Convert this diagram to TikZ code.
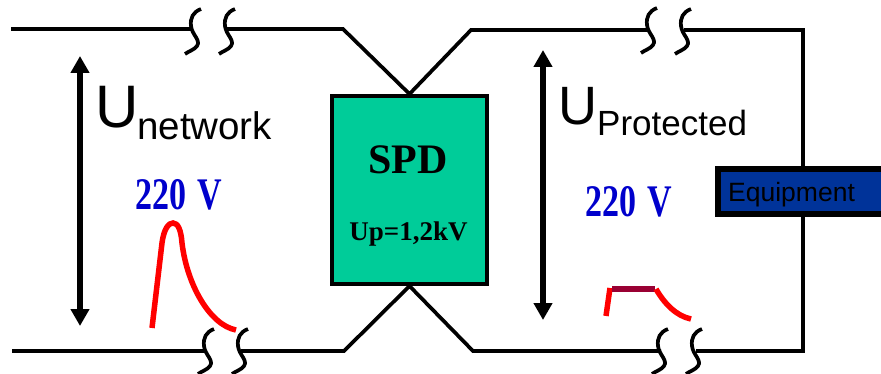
\documentclass[tikz,border=0pt]{standalone}
\usepackage{fontspec}
\setmainfont{Liberation Serif}
\setsansfont{Liberation Sans}
\usetikzlibrary{arrows.meta}
\definecolor{spdgreen}{HTML}{00CC99}
\definecolor{eqblue}{HTML}{003399}
\definecolor{voltblue}{HTML}{0000CC}
\definecolor{flatred}{HTML}{990033}
\tikzset{
  x=1pt,y=-1pt,
  wire/.style={line width=3.7pt,black,line join=miter},
  volt/.style={line width=5.5pt,black,{Triangle[width=18pt,length=17pt]}-{Triangle[width=18pt,length=17pt]}},
  lbl/.style={inner sep=0pt,anchor=base west,font=\sffamily},
  wave/.style={line width=5.5pt,red},
  breakmark/.pic={\draw[line width=3.7pt,black] (16,0) .. controls (8,3) and (5,9) .. (6,17) .. controls (7,26) and (16,31) .. (12,37) .. controls (9,41) and (4,42) .. (0,45);},
  fs/.style={font=\fontsize{#1}{#1}\selectfont},
  sfs/.style={font=\sffamily\fontsize{#1}{#1}\selectfont},
  bfs/.style={font=\bfseries\fontsize{#1}{#1}\selectfont}
}
\begin{document}
\begin{tikzpicture}
\useasboundingbox (0,0) rectangle (881,374);
\clip (0,0) rectangle (881,374);
% free ends and corners
\coordinate (tl0) at (11,29);
\coordinate (tl1) at (191,29);
\coordinate (tl2) at (227,29);
\coordinate (tl3) at (343,29);
\coordinate (bl0) at (12,351);
\coordinate (bl1) at (205,351);
\coordinate (bl2) at (241,351);
\coordinate (bl3) at (344,351);
\coordinate (tr0) at (471,30);
\coordinate (tr1) at (649,30);
\coordinate (tr2) at (684,30);
\coordinate (tr3) at (803,30);
\coordinate (br0) at (473,351);
\coordinate (br1) at (661,351);
\coordinate (br2) at (696,351);
\coordinate (br3) at (803,351);
\coordinate (al1) at (80,56);
\coordinate (al2) at (80,326);
\coordinate (ar1) at (543,50);
\coordinate (ar2) at (543,320);
% wires
\node[draw=black,line width=4pt,fill=spdgreen,minimum width=155pt,minimum height=188pt,inner sep=0pt] (spd) at (409.5,190) {};
\draw[wire] (tl0) -- (tl1);
\draw[wire] (tl2) -- (tl3) -- (spd.north) -- (tr0) -- (tr1);
\draw[wire] (tr2) -- (tr3) -- (br3) -- (br2);
\draw[wire] (br1) -- (br0) -- (spd.south) -- (bl3) -- (bl2);
\draw[wire] (bl1) -- (bl0);
% breaks
\pic at (185,9) {breakmark};
\pic at (219,9) {breakmark};
\pic at (198,329) {breakmark};
\pic at (232,329) {breakmark};
\pic at (641,8) {breakmark};
\pic at (675,9) {breakmark};
\pic at (652,329) {breakmark};
\pic at (686,329) {breakmark};
% equipment
\node[draw=black,line width=6pt,fill=eqblue,minimum width=180pt,minimum height=45pt,inner sep=0pt] (equip) at (808,191.5) {};
\node[lbl,sfs=26.5] (eqtext) at (728,202) {Equipment};
% voltage arrows
\draw[volt] (al1) -- (al2);
\draw[volt] (ar1) -- (ar2);
% labels
\node[lbl,sfs=60] (uleft) at (95,128) {U};
\node[lbl,sfs=38.5] (unet) at (137,140) {network};
\node[lbl,sfs=54] (uright) at (558,125) {U};
\node[lbl,sfs=35] (uprot) at (597,136) {Protected};
\node[inner sep=0pt,anchor=base west,bfs=34,text=voltblue] (vl) at (135,210) {\scalebox{1}[1.33]{220\hspace{0.34em}V}};
\node[inner sep=0pt,anchor=base west,bfs=34,text=voltblue] (vr) at (585,217) {\scalebox{1}[1.33]{220\hspace{0.34em}V}};
\node[inner sep=0pt,anchor=base,bfs=42] (spdt) at (408,174) {SPD};
\node[inner sep=0pt,anchor=base,bfs=27] (upt) at (408.5,241) {Up=1,2kV};
% waves
\draw[wave] (152,328) -- (162,243) .. controls (164,228) and (169,223) .. (173,223) .. controls (178,223) and (181,230) .. (182,243) .. controls (187,285) and (210,325) .. (236,330);
\draw[wave] (606,316) -- (610,288);
\draw[wave,line width=6pt,flatred] (612,288.5) -- (655,288.5);
\draw[wave] (656,289) .. controls (664,303) and (676,316) .. (691,319);
\end{tikzpicture}
\end{document}
